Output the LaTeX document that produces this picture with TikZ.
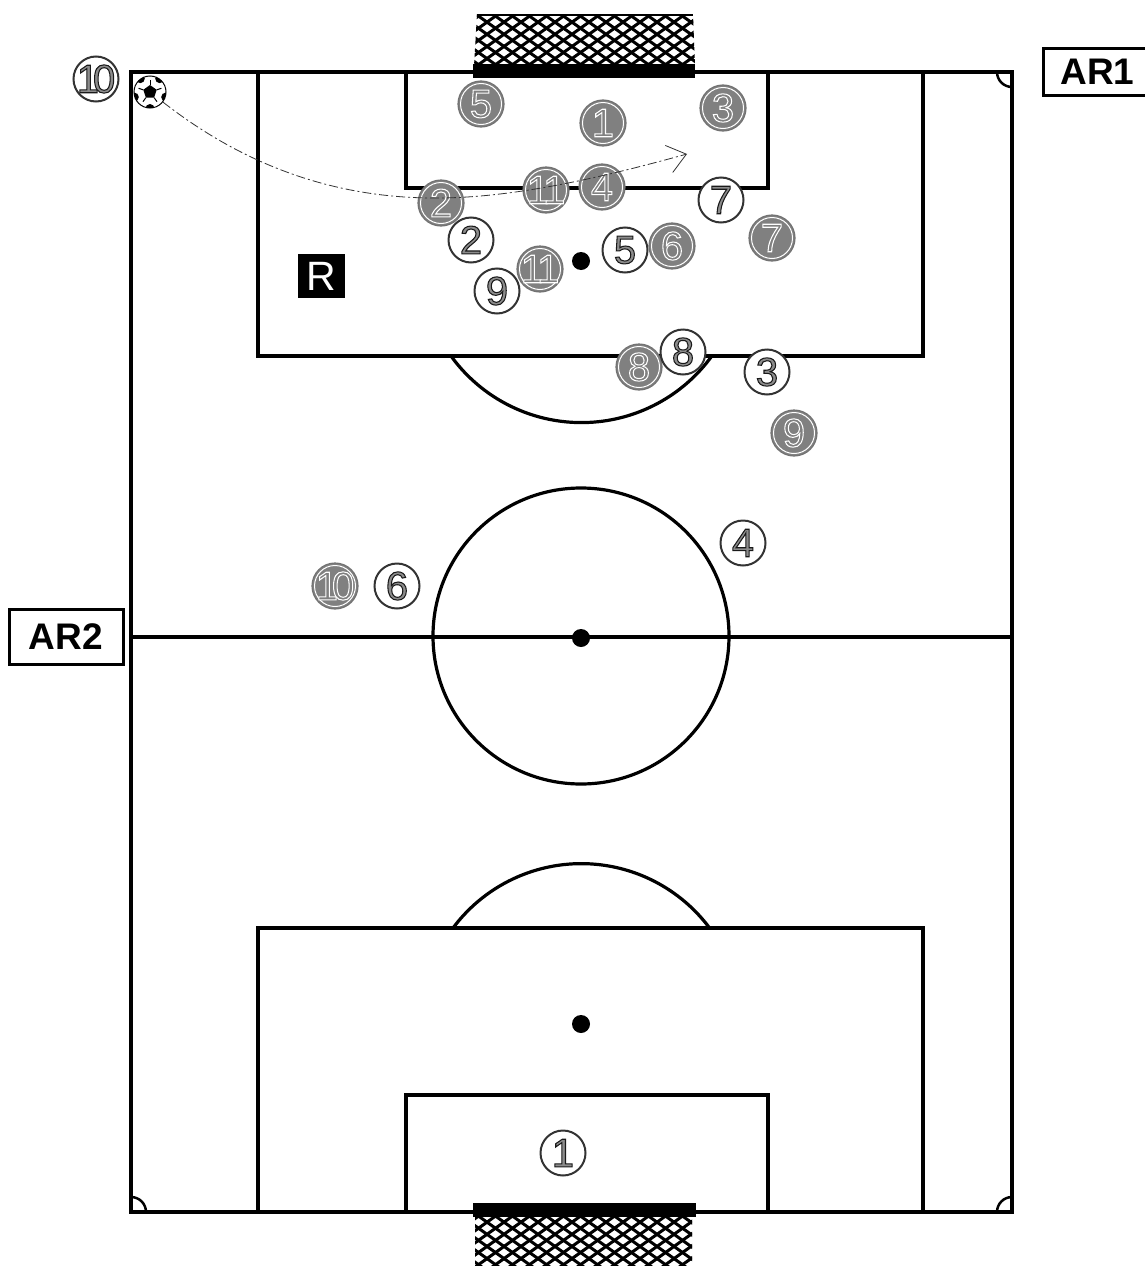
\documentclass[tikz,border=0pt]{standalone}
\usepackage{fontspec}
\setmainfont{Liberation Sans}
\usetikzlibrary{arrows.meta,calc}
\definecolor{disc}{gray}{0.5}
\definecolor{digit}{gray}{0.55}
\newfontfamily\numfont[FakeBold=2.6]{Liberation Sans}
\newcommand\onDark[1]{\makebox[0pt]{\numfont\color{disc}\special{pdf:code 1 1 1 RG}#1}}
\newcommand\onLight[1]{\makebox[0pt]{\numfont\color{digit}\special{pdf:code 0.1 0.1 0.1 RG}#1}}
\tikzset{
  x=1pt,y=-1pt,
  pitchline/.style={line width=3.8pt,draw=black,line join=miter},
  markline/.style={line width=3.2pt,draw=black},
  cornerline/.style={line width=2.5pt,draw=black},
  spot/.style={circle,fill=black,minimum size=18pt,inner sep=0pt},
  darkplayer/.style={circle,minimum size=46pt,inner sep=0pt,fill=disc,draw=black!55,line width=1.2pt,
    font=\fontsize{40}{40}\selectfont,
    path picture={\draw[white,line width=1pt] (path picture bounding box.center) circle (20.5pt);}},
  whiteplayer/.style={circle,minimum size=45pt,inner sep=0pt,fill=white,draw=black!80,line width=2pt,
    font=\fontsize{40}{40}\selectfont},
  arbox/.style={draw=black,line width=3pt,fill=white,inner sep=0pt,font=\bfseries\fontsize{37}{37}\selectfont},
  netline/.style={line width=3pt,black},
}
\begin{document}
\begin{tikzpicture}
\useasboundingbox (0,0) rectangle (1145,1266);
\fill[white] (0,0) rectangle (1145,1266);
% nets
\begin{scope}
  \clip (477,14) -- (693,14) -- (695,66) -- (474,66) -- cycle;
  \foreach \i in {-8,...,20}{
    \draw[netline] ({470+\i*17},10) -- ({470+\i*17+84},70);
    \draw[netline] ({470+\i*17},10) -- ({470+\i*17-84},70);
  }
  \draw[netline] (477,14) -- (693,14);
\end{scope}
\begin{scope}
  \clip (475,1214) rectangle (692,1266);
  \foreach \i in {-8,...,20}{
    \draw[netline] ({470+\i*17},1210) -- ({470+\i*17+84},1270);
    \draw[netline] ({470+\i*17},1210) -- ({470+\i*17-84},1270);
  }
\end{scope}
% pitch
\draw[pitchline] (131,72) rectangle (1012,1212);
\draw[pitchline] (258,72) rectangle (923,356);
\draw[pitchline] (406,72) rectangle (768,188);
\draw[pitchline] (258,1212) rectangle (923,928);
\draw[pitchline] (406,1212) rectangle (768,1095);
\draw[pitchline] (131,637) -- (1012,637);
\draw[markline] (581,636) circle (148pt);
\draw[markline] (451,356) arc[start angle=144.1,end angle=35.9,radius=161];
\draw[markline] (453,928) arc[start angle=216.7,end angle=323.3,radius=160];
\draw[cornerline] (146,1212) arc[start angle=0,end angle=-90,radius=15];
\draw[cornerline] (997,1212) arc[start angle=180,end angle=270,radius=15];
\draw[cornerline] (997,72) arc[start angle=180,end angle=90,radius=15];
% goal bars
\fill[black] (473,64) rectangle (695,78);
\fill[black] (473,1203) rectangle (696,1217);
% spots
\node[spot] (pen1) at (581,261) {};
\node[spot] (pen2) at (581,1024) {};
\node[spot] (centre) at (581,638) {};
% white team
\node[whiteplayer] (w10) at (96,79) {\onLight{1\kern-6pt 0}};
\node[whiteplayer] (w7) at (721,200) {\onLight{7}};
\node[whiteplayer] (w2) at (471,240) {\onLight{2}};
\node[whiteplayer] (w5) at (625,250) {\onLight{5}};
\node[whiteplayer] (w9) at (497,291) {\onLight{9}};
\node[whiteplayer] (w3) at (767,372) {\onLight{3}};
\node[whiteplayer] (w4) at (743,543) {\onLight{4}};
\node[whiteplayer] (w6) at (397,586) {\onLight{6}};
\node[whiteplayer] (w1) at (563,1153) {\onLight{1}};
% dark team
\node[darkplayer] (d5) at (481,104) {\onDark{5}};
\node[darkplayer] (d1) at (603,123) {\onDark{1}};
\node[darkplayer] (d3) at (723,108) {\onDark{3}};
\node[darkplayer] (d2) at (441,203) {\onDark{2}};
\node[darkplayer] (d11) at (546,190) {\onDark{1\kern-6pt 1}};
\node[darkplayer] (d4) at (602,187) {\onDark{4}};
\node[darkplayer] (d6) at (672,246) {\onDark{6}};
\node[darkplayer] (d7) at (772,238) {\onDark{7}};
\node[darkplayer] (d11b) at (540,269) {\onDark{1\kern-6pt 1}};
\node[darkplayer] (d8) at (639,367) {\onDark{8}};
\node[darkplayer] (d9) at (794,433) {\onDark{9}};
\node[darkplayer] (d10) at (335,586) {\onDark{1\kern-6pt 0}};
\node[whiteplayer] (w8) at (683,352) {\onLight{8}};
% referee
\node[fill=black,text=white,minimum width=47pt,minimum height=44pt,inner sep=0pt,font=\fontsize{41}{41}\selectfont] (ref) at (321.5,276) {R};
% assistants
\node[arbox,minimum width=114pt,minimum height=55pt] (ar2) at (66,636.5) {AR2};
\node[arbox,minimum width=120pt,minimum height=47pt,anchor=west] (ar1) at (1042,72) {\hspace*{-6pt}AR1\hspace*{6pt}};
% ball
\node[circle,minimum size=32pt,inner sep=0pt,fill=white,draw=black,line width=1pt] (ball) at (150,92) {};
\begin{scope}
  \clip (150,92) circle (16pt);
  \fill[black] (150,85) -- (156.7,89.8) -- (154.1,97.7) -- (145.9,97.7) -- (143.3,89.8) -- cycle;
  \foreach \a in {-90,-18,54,126,198}{
    \fill[black] ($(150,92)+(\a:16.5pt)$) circle (4.5pt);
  }
  \foreach \a in {-54,18,90,162,234}{
    \draw[black,line width=1pt] ($(150,92)+(\a:7pt)$) -- ($(150,92)+(\a:12pt)$);
  }
\end{scope}
% flight of the ball
\coordinate (landing) at (687,154);
\coordinate (bend) at (430,198);
\draw[black!80,line width=0.8pt,dash pattern=on 9pt off 3pt on 2pt off 3pt,-{Straight Barb[length=18pt,width=28pt,line width=0.8pt]}]
  (ball) .. controls (250,170) and (340,197) .. (bend) .. controls (510,199) and (600,178) .. (landing);
\end{tikzpicture}
\end{document}
